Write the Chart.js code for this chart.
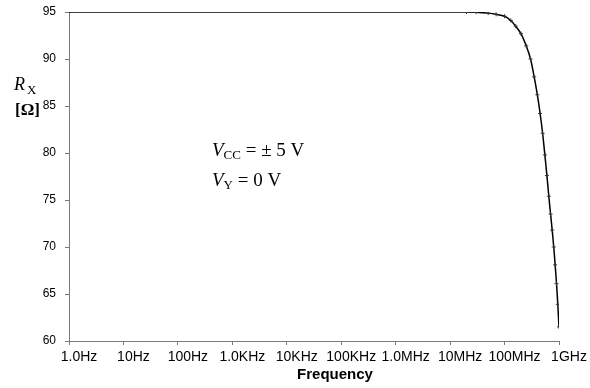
<!DOCTYPE html>
<html>
<head>
<meta charset="utf-8">
<script src="https://cdn.jsdelivr.net/npm/chart.js@4"></script>
<style>
  html, body { margin: 0; padding: 0; background: #fff; }
  canvas { display: block; }
</style>
</head>
<body>
<canvas id="rxChart" width="590" height="388"></canvas>
<script>
// frequency sweep (Hz) and measured Rx (ohm)
const freqs = [1, 10, 100, 1e3, 1e4, 1e5, 1e6, 1e7, 2e7, 3e7, 5e7, 7e7, 1e8,
  1.3e8, 1.6e8, 2e8, 2.5e8, 3e8, 3.5e8, 4e8, 4.5e8, 5e8, 5.5e8, 6e8, 6.5e8,
  7e8, 7.5e8, 8e8, 8.5e8, 9e8, 9.5e8, 1e9];
const rx = [95, 95, 95, 95, 95, 95, 95, 95, 95.0, 94.98, 94.88, 94.75, 94.55,
  94.1, 93.5, 92.7, 91.4, 90.0, 88.1, 86.2, 84.2, 82.1, 79.8, 77.6, 75.4,
  73.5, 71.8, 70.0, 68.1, 66.1, 63.9, 61.5];

const xTicks = [1, 10, 100, 1e3, 1e4, 1e5, 1e6, 1e7, 1e8, 1e9];
const xTickLabels = ["1.0Hz", "10Hz", "100Hz", "1.0KHz", "10KHz", "100KHz",
  "1.0MHz", "10MHz", "100MHz", "1GHz"];

const sans = "'Liberation Sans', Arial, sans-serif";
const serif = "'Liberation Serif', 'Times New Roman', serif";
const axisGray = "#7a7a7a";

// axis title, y label and the bias conditions
const labelsPlugin = {
  id: "labels",
  afterDraw(chart) {
    const c = chart.ctx;
    c.save();
    c.fillStyle = "#000";
    c.textBaseline = "alphabetic";

    c.font = "bold 15px " + sans;
    c.textAlign = "center";
    c.fillText("Frequency", 335, 379);

    c.textAlign = "left";
    c.font = "italic 18px " + serif;
    c.fillText("R", 14, 90);
    c.font = "13px " + serif;
    c.fillText("X", 27, 94);
    c.font = "bold 17px " + serif;
    c.fillText("[\u03A9]", 15, 115);

    function sub(main, subTxt, rest, x, y) {
      c.font = "italic 19px " + serif;
      c.fillText(main, x, y);
      x += c.measureText(main).width;
      c.font = "13px " + serif;
      c.fillText(subTxt, x, y + 3);
      x += c.measureText(subTxt).width;
      c.font = "19px " + serif;
      c.fillText(rest, x, y);
    }
    sub("V", "CC", " = \u00B1 5 V", 212, 156);
    sub("V", "Y", " = 0 V", 212, 186);
    c.restore();
  }
};

const ctx = document.getElementById("rxChart").getContext("2d");
const chart = new Chart(ctx, {
  type: "line",
  data: {
    datasets: [
      {
        data: freqs.map((f, i) => ({ x: f, y: rx[i] })),
        borderColor: "#000",
        borderWidth: 1.5,
        pointStyle: "cross",
        pointRadius: freqs.map((f) => (f > 1e7 ? 2 : 0)),
        pointBorderColor: "#333",
        pointBorderWidth: 1,
        tension: 0.3,
        fill: false,
      },
    ],
  },
  options: {
    responsive: false,
    animation: false,
    layout: { padding: { top: 12, right: 31, left: 0, bottom: 0 } },
    plugins: { legend: { display: false }, tooltip: { enabled: false } },
    scales: {
      x: {
        type: "logarithmic",
        min: 1,
        max: 1e9,
        afterBuildTicks: (scale) => {
          scale.ticks = xTicks.map((v) => ({ value: v }));
        },
        afterFit: (scale) => {
          scale.height = 47;
          scale.paddingTop = 0;
          scale.paddingBottom = 0;
        },
        ticks: {
          autoSkip: false,
          maxRotation: 0,
          color: "#000",
          font: { family: sans, size: 14 },
          padding: 4,
          labelOffset: 10,
          callback: (value, index) => xTickLabels[index],
        },
        grid: { drawOnChartArea: false, drawTicks: true, tickLength: 4, color: axisGray },
        border: { display: true, color: axisGray, width: 1 },
      },
      y: {
        min: 60,
        max: 95,
        afterFit: (scale) => {
          scale.width = 69;
          scale.paddingTop = 0;
          scale.paddingBottom = 0;
        },
        ticks: { stepSize: 5, color: "#000", font: { family: sans, size: 12 }, padding: 9 },
        grid: { drawOnChartArea: false, drawTicks: true, tickLength: 4, color: axisGray },
        border: { display: true, color: axisGray, width: 1 },
      },
    },
  },
  plugins: [labelsPlugin],
});
</script>
</body>
</html>
